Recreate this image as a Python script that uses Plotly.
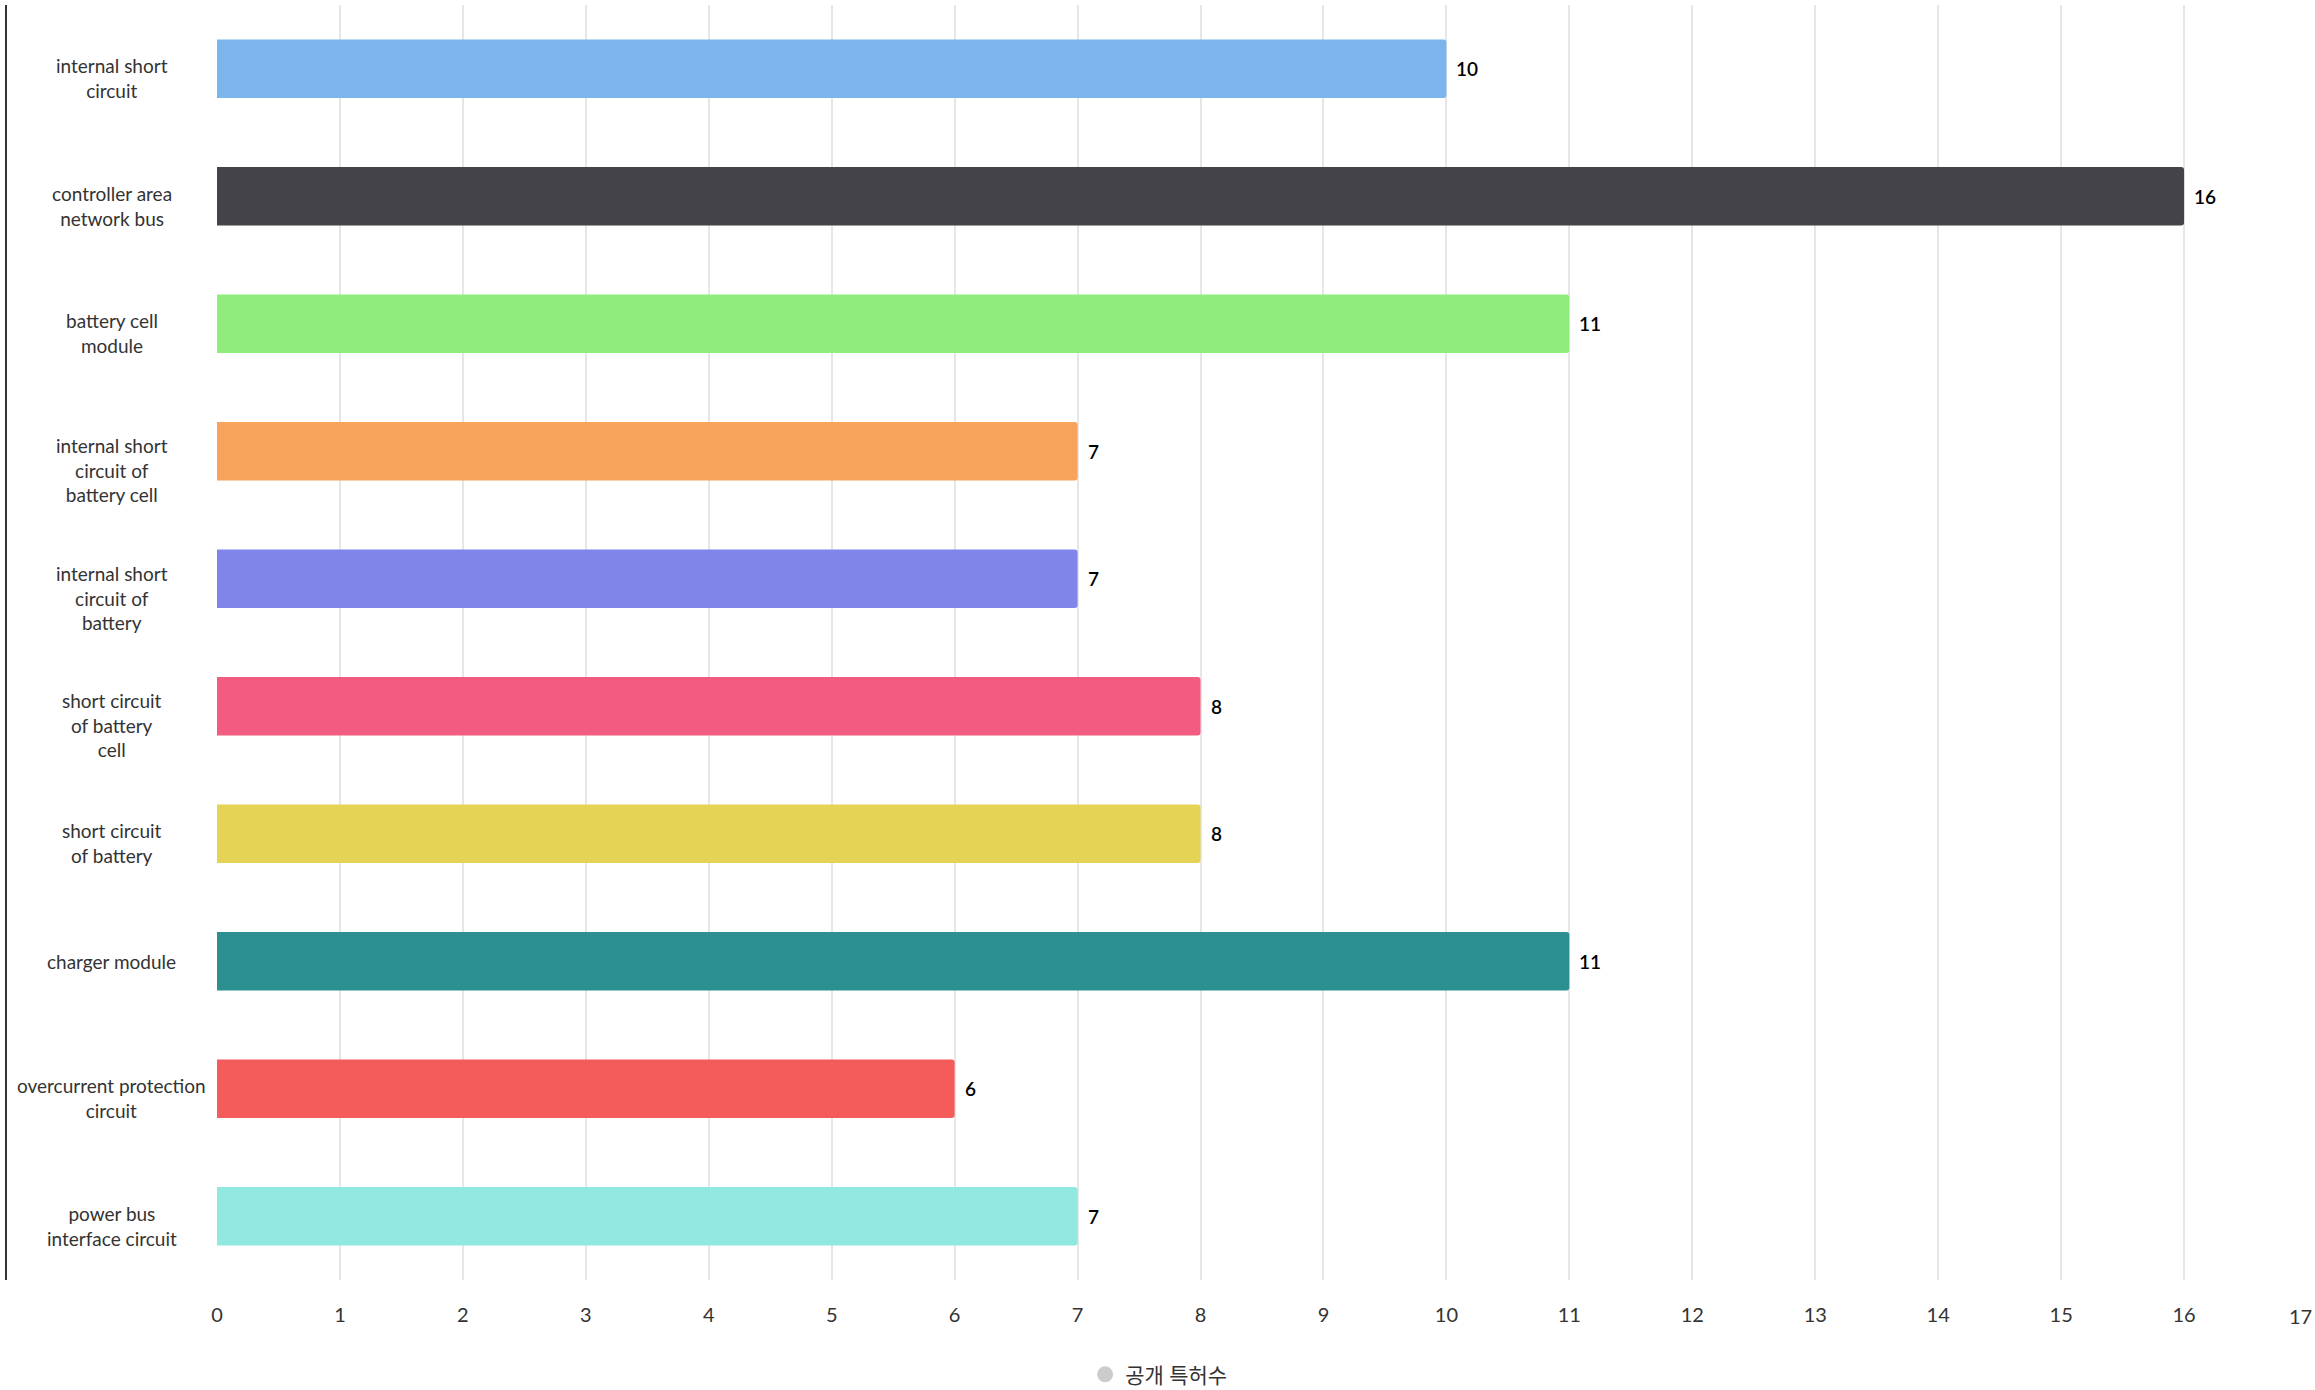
import plotly.graph_objects as go

categories = [
    "internal short<br>circuit",
    "controller area<br>network bus",
    "battery cell<br>module",
    "internal short<br>circuit of<br>battery cell",
    "internal short<br>circuit of<br>battery",
    "short circuit<br>of battery<br>cell",
    "short circuit<br>of battery",
    "charger module",
    "overcurrent protection<br>circuit",
    "power bus<br>interface circuit",
]
values = [10, 16, 11, 7, 7, 8, 8, 11, 6, 7]
colors = ["#7cb5ec", "#434348", "#90ed7d", "#f7a35c", "#8085e9",
          "#f15c80", "#e4d354", "#2b908f", "#f45b5b", "#91e8e1"]
x_ticks = list(range(0, 18))
series_name = "공개 특허수"

FONT = "Lato, 'Noto Sans CJK KR', sans-serif"

fig = go.Figure()
fig.add_trace(go.Bar(
    y=categories, x=values, orientation="h",
    marker=dict(color=colors, line=dict(width=0)),
    width=0.46, showlegend=False, hoverinfo="x+y",
))
fig.add_trace(go.Scatter(
    x=[None], y=[None], mode="markers", name=series_name,
    marker=dict(symbol="circle", size=17, color="#cccccc"),
    showlegend=True,
))

annotations = []
for c, v in zip(categories, values):
    n_lines = c.count("<br>") + 1
    annotations.append(dict(
        x=v, y=c, xref="x", yref="y", text=str(v), showarrow=False,
        xanchor="left", yanchor="middle", xshift=8,
        font=dict(family=FONT, size=19, color="#000000", weight=600),
    ))
    annotations.append(dict(
        x=-0.0504, y=c, xref="paper", yref="y", text=c, showarrow=False,
        xanchor="center", yanchor="middle", align="center",
        yshift=-9.6 * (n_lines - 1),
        font=dict(family=FONT, size=19, color="#333333"),
    ))

# last tick label is pulled inside the chart edge
tick_text = [str(t) for t in x_ticks]
last_tick = x_ticks[-1]
tick_text[-1] = ""
annotations.append(dict(
    x=last_tick, y=0, xref="x", yref="paper", text=str(last_tick),
    showarrow=False, xanchor="right", yanchor="top", xshift=7, yshift=-22,
    font=dict(family=FONT, size=20, color="#333333"),
))

fig.update_layout(
    width=2315, height=1390,
    margin=dict(l=217, r=8, t=5, b=110),
    paper_bgcolor="white", plot_bgcolor="white",
    barcornerradius=3,
    font=dict(family=FONT, color="#333333"),
    xaxis=dict(
        range=[0, 17], tickvals=x_ticks, ticktext=tick_text,
        showgrid=True, gridcolor="#e6e6e6",
        gridwidth=1.5, zeroline=False, showline=False,
        ticks="outside", ticklen=17, tickcolor="rgba(0,0,0,0)",
        tickfont=dict(family=FONT, size=20, color="#333333"),
    ),
    yaxis=dict(
        categoryorder="array", categoryarray=categories,
        autorange="reversed", showticklabels=False, showgrid=False,
        zeroline=False, showline=False,
    ),
    legend=dict(
        orientation="h", xref="container", yref="container",
        x=0.5005, y=0.011, xanchor="center", yanchor="middle",
        font=dict(family=FONT, size=21, color="#333333"),
    ),
    annotations=annotations,
    shapes=[dict(type="line", xref="paper", yref="paper",
                 x0=-211 / 2090, x1=-211 / 2090, y0=0, y1=1.0,
                 line=dict(color="#333333", width=2))],
)

fig.write_html("out.html", config={"displayModeBar": False},
               post_script="document.body.style.margin='0';")
